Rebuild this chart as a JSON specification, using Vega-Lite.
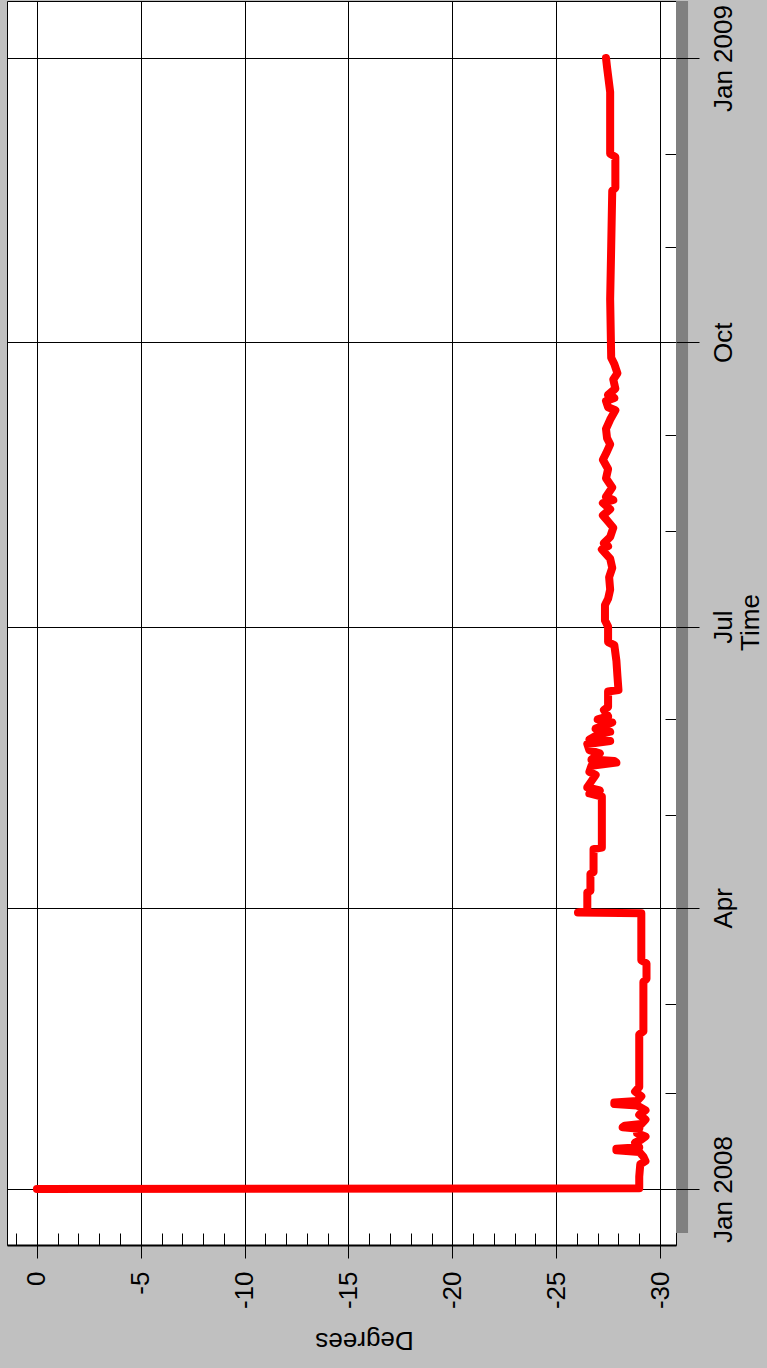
{
  "$schema": "https://vega.github.io/schema/vega-lite/v6.json",
  "autosize": "none",
  "width": 669,
  "height": 1244,
  "padding": {"left": 7, "top": 1, "right": 91, "bottom": 123},
  "background": "#c0c0c0",
  "config": {
    "view": {"fill": "#ffffff", "stroke": "#000000", "strokeWidth": 1},
    "font": "Liberation Sans",
    "axis": {
      "labelFont": "Liberation Sans", "titleFont": "Liberation Sans",
      "labelColor": "#000000", "titleColor": "#000000",
      "tickColor": "#000000", "domainColor": "#000000",
      "gridColor": "#000000", "gridOpacity": 1, "gridWidth": 1, "tickWidth": 1,
      "titleFontWeight": "normal", "labelFontSize": 26, "titleFontSize": 26
    }
  },
  "datasets": {
    "heading": [
      {"time": "2008-01-01T00:00:00Z", "deg": 0},
      {"time": "2008-01-01T06:00:00Z", "deg": -29.0},
      {"time": "2008-01-05T00:00:00Z", "deg": -29.0},
      {"time": "2008-01-09T00:00:00Z", "deg": -29.05},
      {"time": "2008-01-10T00:00:00Z", "deg": -29.3},
      {"time": "2008-01-11T12:00:00Z", "deg": -29.2},
      {"time": "2008-01-13T00:00:00Z", "deg": -29.0},
      {"time": "2008-01-13T12:00:00Z", "deg": -27.9},
      {"time": "2008-01-14T00:00:00Z", "deg": -27.9},
      {"time": "2008-01-14T12:00:00Z", "deg": -29.0},
      {"time": "2008-01-16T00:00:00Z", "deg": -28.8},
      {"time": "2008-01-17T00:00:00Z", "deg": -29.1},
      {"time": "2008-01-18T00:00:00Z", "deg": -29.3},
      {"time": "2008-01-19T00:00:00Z", "deg": -28.9},
      {"time": "2008-01-20T12:00:00Z", "deg": -29.0},
      {"time": "2008-01-21T00:00:00Z", "deg": -28.2},
      {"time": "2008-01-21T12:00:00Z", "deg": -28.3},
      {"time": "2008-01-22T00:00:00Z", "deg": -29.1},
      {"time": "2008-01-23T12:00:00Z", "deg": -29.3},
      {"time": "2008-01-25T00:00:00Z", "deg": -29.0},
      {"time": "2008-01-26T12:00:00Z", "deg": -29.3},
      {"time": "2008-01-28T00:00:00Z", "deg": -28.9},
      {"time": "2008-01-28T12:00:00Z", "deg": -27.8},
      {"time": "2008-01-29T00:00:00Z", "deg": -27.8},
      {"time": "2008-01-29T12:00:00Z", "deg": -28.9},
      {"time": "2008-01-31T00:00:00Z", "deg": -29.1},
      {"time": "2008-02-01T12:00:00Z", "deg": -28.8},
      {"time": "2008-02-03T00:00:00Z", "deg": -29.0},
      {"time": "2008-02-20T00:00:00Z", "deg": -29.0},
      {"time": "2008-02-21T00:00:00Z", "deg": -29.2},
      {"time": "2008-03-08T00:00:00Z", "deg": -29.2},
      {"time": "2008-03-09T00:00:00Z", "deg": -29.35},
      {"time": "2008-03-14T00:00:00Z", "deg": -29.35},
      {"time": "2008-03-15T00:00:00Z", "deg": -29.1},
      {"time": "2008-03-30T06:00:00Z", "deg": -29.1},
      {"time": "2008-03-30T12:00:00Z", "deg": -26.05},
      {"time": "2008-03-31T00:00:00Z", "deg": -26.5},
      {"time": "2008-04-06T00:00:00Z", "deg": -26.5},
      {"time": "2008-04-06T12:00:00Z", "deg": -26.65},
      {"time": "2008-04-12T00:00:00Z", "deg": -26.65},
      {"time": "2008-04-12T12:00:00Z", "deg": -26.8},
      {"time": "2008-04-20T00:00:00Z", "deg": -26.8},
      {"time": "2008-04-20T12:00:00Z", "deg": -27.2},
      {"time": "2008-05-07T00:00:00Z", "deg": -27.2},
      {"time": "2008-05-08T00:00:00Z", "deg": -26.6},
      {"time": "2008-05-09T00:00:00Z", "deg": -27.1},
      {"time": "2008-05-10T00:00:00Z", "deg": -26.5},
      {"time": "2008-05-12T00:00:00Z", "deg": -26.7},
      {"time": "2008-05-14T00:00:00Z", "deg": -26.9},
      {"time": "2008-05-15T00:00:00Z", "deg": -26.6},
      {"time": "2008-05-17T00:00:00Z", "deg": -26.7},
      {"time": "2008-05-18T00:00:00Z", "deg": -27.9},
      {"time": "2008-05-18T12:00:00Z", "deg": -27.8},
      {"time": "2008-05-19T00:00:00Z", "deg": -26.7},
      {"time": "2008-05-21T00:00:00Z", "deg": -27.1},
      {"time": "2008-05-22T00:00:00Z", "deg": -26.6},
      {"time": "2008-05-24T00:00:00Z", "deg": -26.5},
      {"time": "2008-05-25T00:00:00Z", "deg": -27.6},
      {"time": "2008-05-25T12:00:00Z", "deg": -26.6},
      {"time": "2008-05-27T00:00:00Z", "deg": -27.0},
      {"time": "2008-05-28T00:00:00Z", "deg": -27.6},
      {"time": "2008-05-29T00:00:00Z", "deg": -26.9},
      {"time": "2008-05-31T00:00:00Z", "deg": -27.7},
      {"time": "2008-06-01T00:00:00Z", "deg": -27.0},
      {"time": "2008-06-02T00:00:00Z", "deg": -27.5},
      {"time": "2008-06-04T00:00:00Z", "deg": -27.3},
      {"time": "2008-06-05T00:00:00Z", "deg": -27.5},
      {"time": "2008-06-10T00:00:00Z", "deg": -27.5},
      {"time": "2008-06-10T12:00:00Z", "deg": -28.0},
      {"time": "2008-06-15T00:00:00Z", "deg": -27.95},
      {"time": "2008-06-20T00:00:00Z", "deg": -27.9},
      {"time": "2008-06-25T00:00:00Z", "deg": -27.8},
      {"time": "2008-06-26T00:00:00Z", "deg": -27.5},
      {"time": "2008-07-01T00:00:00Z", "deg": -27.5},
      {"time": "2008-07-03T00:00:00Z", "deg": -27.35},
      {"time": "2008-07-08T00:00:00Z", "deg": -27.35},
      {"time": "2008-07-10T00:00:00Z", "deg": -27.5},
      {"time": "2008-07-13T00:00:00Z", "deg": -27.6},
      {"time": "2008-07-17T00:00:00Z", "deg": -27.55},
      {"time": "2008-07-20T00:00:00Z", "deg": -27.7},
      {"time": "2008-07-23T00:00:00Z", "deg": -27.6},
      {"time": "2008-07-26T00:00:00Z", "deg": -27.2},
      {"time": "2008-07-27T00:00:00Z", "deg": -27.5},
      {"time": "2008-07-28T00:00:00Z", "deg": -27.3},
      {"time": "2008-07-30T00:00:00Z", "deg": -27.6},
      {"time": "2008-08-02T00:00:00Z", "deg": -27.75},
      {"time": "2008-08-04T00:00:00Z", "deg": -27.5},
      {"time": "2008-08-06T00:00:00Z", "deg": -27.25},
      {"time": "2008-08-08T00:00:00Z", "deg": -27.6},
      {"time": "2008-08-10T00:00:00Z", "deg": -27.25},
      {"time": "2008-08-11T00:00:00Z", "deg": -27.75},
      {"time": "2008-08-12T00:00:00Z", "deg": -27.4},
      {"time": "2008-08-15T00:00:00Z", "deg": -27.7},
      {"time": "2008-08-18T00:00:00Z", "deg": -27.4},
      {"time": "2008-08-21T00:00:00Z", "deg": -27.5},
      {"time": "2008-08-24T00:00:00Z", "deg": -27.25},
      {"time": "2008-08-26T00:00:00Z", "deg": -27.4},
      {"time": "2008-08-29T00:00:00Z", "deg": -27.6},
      {"time": "2008-08-31T00:00:00Z", "deg": -27.45},
      {"time": "2008-09-03T00:00:00Z", "deg": -27.4},
      {"time": "2008-09-06T00:00:00Z", "deg": -27.6},
      {"time": "2008-09-09T00:00:00Z", "deg": -27.85},
      {"time": "2008-09-10T00:00:00Z", "deg": -27.5},
      {"time": "2008-09-12T00:00:00Z", "deg": -27.4},
      {"time": "2008-09-13T00:00:00Z", "deg": -27.8},
      {"time": "2008-09-14T00:00:00Z", "deg": -27.5},
      {"time": "2008-09-16T00:00:00Z", "deg": -27.85},
      {"time": "2008-09-19T00:00:00Z", "deg": -27.75},
      {"time": "2008-09-21T00:00:00Z", "deg": -27.95},
      {"time": "2008-09-24T00:00:00Z", "deg": -27.8},
      {"time": "2008-09-26T00:00:00Z", "deg": -27.65},
      {"time": "2008-10-15T00:00:00Z", "deg": -27.6},
      {"time": "2008-11-01T00:00:00Z", "deg": -27.65},
      {"time": "2008-11-19T00:00:00Z", "deg": -27.7},
      {"time": "2008-11-20T00:00:00Z", "deg": -27.85},
      {"time": "2008-11-30T00:00:00Z", "deg": -27.85},
      {"time": "2008-12-01T00:00:00Z", "deg": -27.6},
      {"time": "2008-12-21T00:00:00Z", "deg": -27.6},
      {"time": "2008-12-29T00:00:00Z", "deg": -27.45},
      {"time": "2009-01-01T00:00:00Z", "deg": -27.4}
    ]
  },
  "resolve": {"axis": {"x": "independent", "y": "independent"}},
  "layer": [
    {
      "data": {"values": [{"shadow": 1}]},
      "mark": {"type": "rect", "color": "#808080"},
      "encoding": {
        "x": {
          "datum": -30.77, "type": "quantitative",
          "scale": {"domain": [1.44, -30.77], "nice": false, "zero": false},
          "axis": {
            "orient": "bottom", "values": [1,0,-1,-2,-3,-4,-5,-6,-7,-8,-9,-10,-11,-12,-13,-14,-15,-16,-17,-18,-19,-20,-21,-22,-23,-24,-25,-26,-27,-28,-29,-30],
            "tickSize": -12, "labels": false, "domain": false, "grid": false, "title": null, "zindex": 0
          }
        },
        "x2": {"datum": -31.35},
        "y": {
          "datum": {"year": 2009, "month": 1, "date": 19, "hours": 11, "utc": true}, "type": "temporal",
          "scale": {"type": "utc", "domain": [{"year": 2007, "month": 12, "date": 13, "hours": 21, "utc": true}, {"year": 2009, "month": 1, "date": 19, "hours": 11, "utc": true}], "nice": false},
          "axis": {
            "orient": "right",
            "values": [
              {"year": 2008, "month": 1, "date": 1, "utc": true}, {"year": 2008, "month": 2, "date": 1, "utc": true},
              {"year": 2008, "month": 3, "date": 1, "utc": true}, {"year": 2008, "month": 4, "date": 1, "utc": true},
              {"year": 2008, "month": 5, "date": 1, "utc": true}, {"year": 2008, "month": 6, "date": 1, "utc": true},
              {"year": 2008, "month": 7, "date": 1, "utc": true}, {"year": 2008, "month": 8, "date": 1, "utc": true},
              {"year": 2008, "month": 9, "date": 1, "utc": true}, {"year": 2008, "month": 10, "date": 1, "utc": true},
              {"year": 2008, "month": 11, "date": 1, "utc": true}, {"year": 2008, "month": 12, "date": 1, "utc": true},
              {"year": 2009, "month": 1, "date": 1, "utc": true}
            ],
            "tickSize": -11, "labels": false, "domain": false, "grid": false, "title": null, "zindex": 0
          }
        },
        "y2": {"datum": {"year": 2007, "month": 12, "date": 17, "hours": 19, "utc": true}}
      }
    },
    {
      "data": {"name": "heading"},
      "mark": {"type": "line", "color": "#ff0000", "strokeWidth": 8, "strokeCap": "round", "strokeJoin": "round"},
      "encoding": {
        "x": {
          "field": "deg", "type": "quantitative",
          "scale": {"domain": [1.44, -30.77], "nice": false, "zero": false},
          "axis": {"orient": "bottom", "values": [0,-5,-10,-15,-20,-25,-30], "grid": true, "ticks": false, "labels": false, "domain": false, "title": null, "zindex": 0}
        },
        "y": {
          "field": "time", "type": "temporal",
          "scale": {"type": "utc", "domain": [{"year": 2007, "month": 12, "date": 13, "hours": 21, "utc": true}, {"year": 2009, "month": 1, "date": 19, "hours": 11, "utc": true}], "nice": false},
          "axis": {
            "orient": "right",
            "values": [
              {"year": 2008, "month": 1, "date": 1, "utc": true}, {"year": 2008, "month": 4, "date": 1, "utc": true},
              {"year": 2008, "month": 7, "date": 1, "utc": true}, {"year": 2008, "month": 10, "date": 1, "utc": true},
              {"year": 2009, "month": 1, "date": 1, "utc": true}
            ],
            "grid": true, "ticks": false, "labels": false, "domain": false, "title": null, "zindex": 0
          }
        },
        "order": {"value": null}
      }
    },
    {
      "data": {"values": []},
      "mark": {"type": "point", "opacity": 0},
      "encoding": {
        "x": {
          "field": "deg", "type": "quantitative",
          "scale": {"domain": [1.44, -30.77], "nice": false, "zero": false},
          "axis": {
            "orient": "bottom", "values": [0,-5,-10,-15,-20,-25,-30], "grid": false,
            "tickSize": 13, "domain": true, "domainWidth": 2,
            "labelAngle": -90, "labelAlign": "right", "labelBaseline": "middle", "labelPadding": 13,
            "labelExpr": "'' + datum.value",
            "title": "Degrees", "titleAngle": 179.99, "titleX": 357, "titleY": 95,
            "titleAlign": "center", "titleBaseline": "middle", "zindex": 1
          }
        },
        "y": {
          "field": "time", "type": "temporal",
          "scale": {"type": "utc", "domain": [{"year": 2007, "month": 12, "date": 13, "hours": 21, "utc": true}, {"year": 2009, "month": 1, "date": 19, "hours": 11, "utc": true}], "nice": false},
          "axis": {
            "orient": "right",
            "values": [
              {"year": 2008, "month": 1, "date": 1, "utc": true}, {"year": 2008, "month": 4, "date": 1, "utc": true},
              {"year": 2008, "month": 7, "date": 1, "utc": true}, {"year": 2008, "month": 10, "date": 1, "utc": true},
              {"year": 2009, "month": 1, "date": 1, "utc": true}
            ],
            "grid": false, "tickSize": 23, "domain": false,
            "labelAngle": -90, "labelAlign": "center", "labelBaseline": "top", "labelPadding": 11,
            "labelExpr": "utcmonth(datum.value) == 0 ? utcFormat(datum.value, '%b %Y') : utcFormat(datum.value, '%b')",
            "title": "Time", "titleAngle": 270, "titleX": 74, "titleY": 621,
            "titleAlign": "center", "titleBaseline": "middle", "zindex": 1
          }
        }
      }
    }
  ]
}
